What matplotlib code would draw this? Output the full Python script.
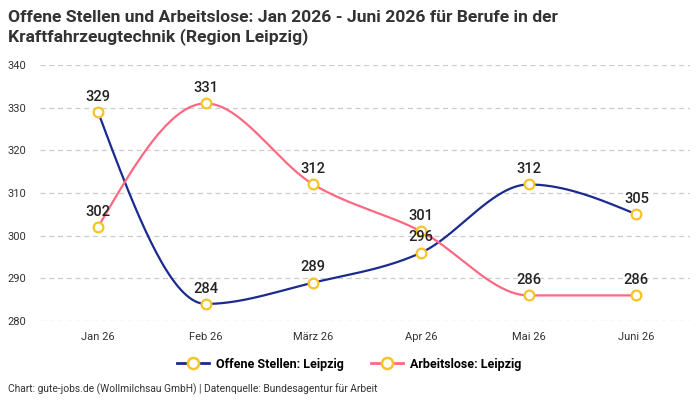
import numpy as np
from matplotlib import pyplot as plt

monate = ['Jan 26', 'Feb 26', 'März 26', 'Apr 26', 'Mai 26', 'Juni 26']
offene_stellen = [329, 284, 289, 296, 312, 305]
arbeitslose = [302, 331, 312, 301, 286, 286]

plt.rcParams['font.family'] = ['Roboto', 'DejaVu Sans']


def monoton(x, y, n=40):
    # monotone kubische Interpolation (wie curveMonotoneX)
    x = np.asarray(x, float)
    y = np.asarray(y, float)
    h = np.diff(x)
    d = np.diff(y) / h
    m = np.zeros(len(y))
    for i in range(1, len(y) - 1):
        if d[i - 1] * d[i] <= 0:
            m[i] = 0
        else:
            m[i] = (np.sign(d[i - 1]) + np.sign(d[i])) * min(abs(d[i - 1]), abs(d[i]), 0.5 * abs((h[i - 1] * d[i] + h[i] * d[i - 1]) / (h[i - 1] + h[i])))
    m[0] = (3 * d[0] - m[1]) / 2 if len(y) > 2 else d[0]
    m[-1] = (3 * d[-1] - m[-2]) / 2
    xs, ys = [], []
    for i in range(len(h)):
        t = np.linspace(0, 1, n)
        h00 = 2 * t**3 - 3 * t**2 + 1
        h10 = t**3 - 2 * t**2 + t
        h01 = -2 * t**3 + 3 * t**2
        h11 = t**3 - t**2
        xs.append(x[i] + t * h[i])
        ys.append(h00 * y[i] + h10 * h[i] * m[i] + h01 * y[i + 1] + h11 * h[i] * m[i + 1])
    return np.concatenate(xs), np.concatenate(ys)


fig = plt.figure(figsize=(7, 4), dpi=100)
ax = fig.add_axes([0.057, 0.1975, 0.929, 0.64])
x = np.arange(len(monate))

for werte, farbe, name in [(offene_stellen, '#1b2a8f', 'Offene Stellen: Leipzig'),
                            (arbeitslose, '#ff6882', 'Arbeitslose: Leipzig')]:
    xs, ys = monoton(x, werte)
    ax.plot(xs, ys, color=farbe, lw=1.6, zorder=2)
    ax.plot(x, werte, ls='none', marker='o', ms=7, mfc='white', mec='#f7c325', mew=1.6, zorder=3)
    ax.plot([], [], color=farbe, lw=2, marker='o', ms=8, mfc='white', mec='#f7c325', mew=1.8, label=name)
    for xi, v in zip(x, werte):
        ax.annotate(str(v), (xi, v), xytext=(0, 6), textcoords='offset points',
                    ha='center', va='bottom', fontsize=10.5, fontweight='medium', color='#222222', zorder=4)

ax.set_xlim(-0.54, 5.5)
ax.set_ylim(280, 340)
ax.set_yticks(range(280, 341, 10))
ax.set_xticks(x)
ax.set_xticklabels(monate)
ax.grid(axis='y', color='#cccccc', ls=(0, (4, 3)), lw=0.9)
ax.set_axisbelow(True)
for s in ax.spines.values():
    s.set_visible(False)
ax.tick_params(length=0, labelsize=8, colors='#333333', pad=8)
ax.tick_params(axis='y', pad=10)

fig.text(0.012, 0.975, 'Offene Stellen und Arbeitslose: Jan 2026 - Juni 2026 für Berufe in der\nKraftfahrzeugtechnik (Region Leipzig)',
         ha='left', va='top', fontsize=12.6, fontweight='bold', color='#333333', linespacing=1.2)
ax.legend(loc='upper center', bbox_to_anchor=(0.475, -0.1), ncol=2, frameon=False,
          handlelength=2.6, handletextpad=0.5, columnspacing=2.2, prop={'weight': 'bold', 'size': 9})
fig.text(0.012, 0.02, 'Chart: gute-jobs.de (Wollmilchsau GmbH) | Datenquelle: Bundesagentur für Arbeit',
         fontsize=7.4, color='#333333')

plt.savefig('out.png', dpi=100)
